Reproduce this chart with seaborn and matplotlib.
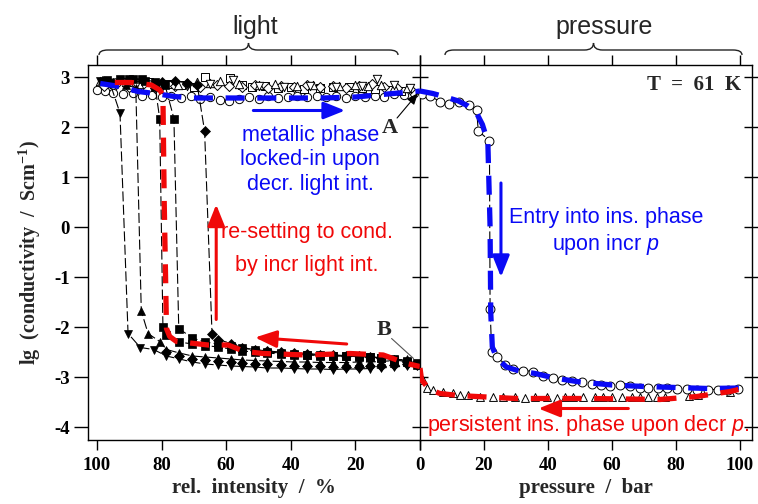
import matplotlib
matplotlib.use("Agg")
import matplotlib.pyplot as plt
import seaborn as sns
from matplotlib.path import Path
from matplotlib.patches import PathPatch

# ---------------- data (left panel: rel. intensity %) ----------------
open_circ_x = [100, 97.5, 95, 92, 89, 86, 83, 80, 77, 74, 71, 68, 65, 62, 59, 56, 53,
               50, 47, 44, 41, 38, 35, 32, 29, 26, 23, 20, 17, 14, 11, 8, 5, 2]
open_circ_y = [2.75, 2.72, 2.68, 2.66, 2.68, 2.62, 2.64, 2.6, 2.63, 2.58, 2.62, 2.56, 2.6,
               2.55, 2.52, 2.57, 2.6, 2.56, 2.62, 2.58, 2.6, 2.62, 2.6, 2.63, 2.6, 2.62,
               2.58, 2.62, 2.6, 2.63, 2.6, 2.66, 2.65, 2.68]
open_sq_x = [84, 78, 74, 70, 66.6, 58.8, 55, 52, 48, 44, 40, 36, 31, 27, 22, 18, 14, 10, 6]
open_sq_y = [2.9, 2.86, 2.85, 2.8, 3.0, 2.98, 2.84, 2.8, 2.82, 2.78, 2.8, 2.76, 2.78, 2.8,
             2.8, 2.78, 2.76, 2.74, 2.72]
open_dia_x = [98, 94, 90, 86, 82, 76, 72, 68, 63, 59, 55, 51, 47, 43, 39, 35, 31, 27, 23,
              19, 15, 11, 7, 3]
open_dia_y = [2.82, 2.86, 2.8, 2.84, 2.78, 2.82, 2.86, 2.8, 2.84, 2.82, 2.8, 2.84, 2.78,
              2.82, 2.8, 2.84, 2.8, 2.82, 2.78, 2.82, 2.86, 2.8, 2.78, 2.76]
open_tri_x = [99, 95, 91, 87, 81, 75, 69, 65, 62, 56, 50, 45, 38, 33, 25, 20, 16, 12, 8, 4]
open_tri_y = [2.92, 2.88, 2.9, 2.86, 2.88, 2.84, 2.9, 2.88, 2.92, 2.86, 2.84, 2.86, 2.82,
              2.84, 2.82, 2.84, 2.82, 2.85, 2.8, 2.78]
open_inv_x = [96, 88, 80, 72, 65, 58, 50, 42, 34, 26, 18, 13.4, 8, 3]
open_inv_y = [2.86, 2.84, 2.8, 2.82, 2.86, 2.95, 2.82, 2.8, 2.82, 2.8, 2.82, 2.97, 2.84, 2.78]

filA_x = [99, 96, 92.9, 90.4, 86.6, 82.5, 78.5, 74.5, 70.5, 66.5, 62.5, 58.5, 55, 51, 47.5,
          43, 39, 35, 31, 27, 23, 19, 15.5, 12, 8, 4]
filA_y = [2.92, 2.88, 2.28, -2.13, -2.41, -2.45, -2.58, -2.64, -2.7, -2.74, -2.76, -2.78,
          -2.79, -2.8, -2.82, -2.82, -2.83, -2.84, -2.84, -2.85, -2.84, -2.84, -2.83,
          -2.82, -2.8, -2.78]
filB_x = [98.5, 95, 91, 88, 86.3, 84.2, 80.6, 78.5, 74.5, 70.5, 66.5, 62.5, 58.5, 55, 51,
          47.5, 43, 39, 35, 31, 27, 23, 19, 15.5, 12, 8, 4]
filB_y = [2.95, 2.9, 2.85, 2.78, -1.68, -2.13, -2.29, -2.45, -2.52, -2.58, -2.6, -2.62,
          -2.64, -2.66, -2.67, -2.68, -2.69, -2.7, -2.7, -2.71, -2.71, -2.71, -2.7, -2.7,
          -2.69, -2.67, -2.64]
filC_x = [97, 93, 89, 85, 82, 80.6, 79.6, 78.5, 74.5, 70.5, 66.5, 62.5, 58.5, 55, 51, 47.5,
          43, 39, 35, 31, 27, 23, 19, 15.5, 12, 8, 4, 1]
filC_y = [2.95, 2.97, 2.97, 2.92, 2.8, 2.17, -2.0, -2.15, -2.3, -2.34, -2.37, -2.4, -2.44,
          -2.48, -2.5, -2.52, -2.54, -2.55, -2.56, -2.57, -2.58, -2.58, -2.59, -2.6,
          -2.61, -2.63, -2.68, -2.72]
filD_x = [90, 86, 82, 79, 76.2, 74.7, 70.5, 66.5, 62.5, 58.5, 55, 51, 47.5, 43, 39, 35, 31,
          27, 23, 19, 15.5, 12, 8, 4, 1]
filD_y = [2.97, 2.96, 2.9, 2.85, 2.17, -2.03, -2.22, -2.3, -2.34, -2.38, -2.42, -2.46,
          -2.5, -2.52, -2.54, -2.55, -2.56, -2.57, -2.58, -2.58, -2.6, -2.62, -2.65,
          -2.7, -2.75]
filE_x = [80, 76, 72, 69, 66.7, 64.4, 62.5, 58.5, 55, 51, 47.5, 43, 39, 35, 31, 27, 23, 19,
          15.5, 12, 8, 4, 1]
filE_y = [2.9, 2.92, 2.88, 2.85, 1.92, -2.13, -2.25, -2.33, -2.42, -2.45, -2.48, -2.5,
          -2.52, -2.53, -2.55, -2.56, -2.57, -2.58, -2.6, -2.62, -2.65, -2.7, -2.75]
filF_x = [78.5, 74.5, 70.5, 66.5, 62.5, 58.5, 55, 51, 47.5, 43, 39, 35, 31, 27, 23, 19,
          15.5, 12, 8, 4]
filF_y = [-2.5, -2.58, -2.64, -2.66, -2.68, -2.7, -2.72, -2.74, -2.74, -2.76, -2.77, -2.78,
          -2.78, -2.79, -2.79, -2.79, -2.78, -2.77, -2.76, -2.74]

blue_L_x = [99, 93, 87.3, 82.1, 76, 70.9, 60, 50, 40, 30, 20, 8.3, 1, 0]
blue_L_y = [2.87, 2.81, 2.71, 2.67, 2.61, 2.58, 2.58, 2.58, 2.58, 2.58, 2.6, 2.67, 2.71, 2.72]
red_L_x = [94.5, 89.4, 83.2, 80.6, 79.6, 79.2, 78.5, 77.5, 75.4, 69.8, 65.6, 59.4, 54.3,
           48.5, 35.1, 21.7, 11.4, 4.1, 0]
red_L_y = [2.89, 2.89, 2.84, 2.74, 2.64, 0.5, -2.03, -2.19, -2.29, -2.33, -2.36, -2.36,
           -2.49, -2.53, -2.56, -2.53, -2.56, -2.73, -2.79]

# ---------------- data (right panel: pressure / bar) ----------------
circ_R_x = [0.5, 3.1, 6.25, 9.2, 12.2, 15.4, 17.7, 18.2, 21.7, 21.9, 22.4, 24.2, 26.6, 29.2,
            32.3, 35.4, 38.5, 41.7, 44.5, 47.4, 50.5, 53.7, 56.5, 59.4, 62.5, 65.6, 68.8,
            71.4, 74.5, 77.1, 80.2, 83.3, 86.5, 90.1, 93.2, 96.4, 99.5]
circ_R_y = [2.67, 2.62, 2.51, 2.45, 2.51, 2.43, 2.35, 1.92, 1.73, -1.63, -2.49, -2.59,
            -2.76, -2.83, -2.87, -2.89, -2.98, -3.01, -3.05, -3.08, -3.09, -3.13, -3.15,
            -3.18, -3.16, -3.18, -3.21, -3.21, -3.21, -3.22, -3.23, -3.24, -3.25, -3.25,
            -3.25, -3.25, -3.23]
tri_R_x = [1.0, 2.1, 4.2, 7.3, 10.4, 12.5, 15.1, 18.7, 22.9, 26, 29.7, 32.8, 35.9, 39.6,
           42.7, 45.3, 47.9, 51, 54.7, 57.3, 59.9, 63, 66.2, 68.8, 71.4, 74, 76.6, 84, 87, 97]
tri_R_y = [-3.06, -3.21, -3.25, -3.29, -3.31, -3.36, -3.36, -3.39, -3.39, -3.4, -3.4,
           -3.41, -3.4, -3.4, -3.41, -3.4, -3.4, -3.39, -3.4, -3.4, -3.4, -3.39, -3.39,
           -3.39, -3.39, -3.39, -3.39, -3.37, -3.35, -3.3]
blue_R_x = [0, 4, 8, 12, 15, 17.5, 19.5, 21.2, 21.9, 22.1, 22.6, 24, 27, 31, 36, 42, 50,
            60, 70, 80, 90, 100]
blue_R_y = [2.72, 2.67, 2.6, 2.52, 2.42, 2.3, 2.05, 1.7, 0.0, -1.7, -2.4, -2.62, -2.8,
            -2.88, -2.93, -3.02, -3.1, -3.16, -3.19, -3.21, -3.23, -3.22]
red_R_x = [0, 0.5, 3, 6.25, 12, 17.7, 30, 53, 75, 86.5, 96.9, 99.5]
red_R_y = [-2.82, -3.06, -3.25, -3.33, -3.37, -3.39, -3.43, -3.43, -3.45, -3.39, -3.29, -3.25]

left_ticks = [100, 80, 60, 40, 20, 0]
right_ticks = [0, 20, 40, 60, 80, 100]
y_ticks = [-4, -3, -2, -1, 0, 1, 2, 3]

# ---------------- style ----------------
sns.set_theme(style="ticks")
plt.rcParams['font.family'] = ['Liberation Serif', 'DejaVu Serif']
plt.rcParams['mathtext.fontset'] = 'custom'
plt.rcParams['mathtext.rm'] = 'Liberation Serif:bold'
plt.rcParams['mathtext.bf'] = 'Liberation Serif:bold'
plt.rcParams['mathtext.it'] = 'Liberation Sans:italic'
plt.rcParams['axes.unicode_minus'] = False

BLUE = '#0a0af5'
RED = '#f00808'
SANS = 'Liberation Sans'

W, H = 758, 504
fig = plt.figure(figsize=(W / 100, H / 100), dpi=100)
axL = fig.add_axes([88 / W, 1 - 440 / H, 332 / W, 375 / H])
axR = fig.add_axes([420 / W, 1 - 440 / H, 332 / W, 375 / H])

DASH_THIN = (0, (9, 3))


def open_pts(ax, x, y, marker, s=36):
    sns.scatterplot(x=x, y=y, ax=ax, marker=marker, s=s, color='white',
                    edgecolor='black', linewidth=0.7, zorder=3)


def filled_line(ax, x, y, marker, ms=6.3, line=True):
    sns.lineplot(x=x, y=y, ax=ax, estimator=None, sort=False, color='black',
                 linewidth=0.8, linestyle=DASH_THIN if line else 'none', marker=marker,
                 markersize=ms, markerfacecolor='black', markeredgecolor='black',
                 markeredgewidth=0.5, zorder=4)


def thick_dash(ax, x, y, color):
    sns.lineplot(x=x, y=y, ax=ax, estimator=None, sort=False, color=color,
                 linewidth=3.8, linestyle=(0, (3.6, 2.4)), zorder=6)


def arrow(ax, start, end, color, lw=2.2):
    ax.annotate('', xy=end, xytext=start,
                arrowprops=dict(arrowstyle='-|>,head_length=0.65,head_width=0.26',
                                color=color, lw=lw, mutation_scale=20,
                                shrinkA=0, shrinkB=0), zorder=7)


# ---------------- left panel ----------------
open_pts(axL, open_circ_x, open_circ_y, 'o')
open_pts(axL, open_sq_x, open_sq_y, 's', s=30)
open_pts(axL, open_dia_x, open_dia_y, 'D', s=26)
open_pts(axL, open_tri_x, open_tri_y, '^')
open_pts(axL, open_inv_x, open_inv_y, 'v')

filled_line(axL, filA_x, filA_y, 'v')
filled_line(axL, filB_x, filB_y, '^')
filled_line(axL, filC_x, filC_y, 's', ms=5.5)
filled_line(axL, filD_x, filD_y, 's', ms=5.5)
filled_line(axL, filE_x, filE_y, 'D', ms=5.2)
filled_line(axL, filF_x, filF_y, 'D', ms=5.2, line=False)

thick_dash(axL, blue_L_x, blue_L_y, BLUE)
thick_dash(axL, red_L_x, red_L_y, RED)

arrow(axL, (51.6, 2.33), (23.2, 2.33), BLUE)
arrow(axL, (63.1, -1.85), (63.1, 0.45), RED)
arrow(axL, (22.7, -2.34), (51.1, -2.21), RED)

axL.text(34, 1.34, "metallic phase\nlocked-in upon\ndecr. light int.", color=BLUE,
         ha='center', va='center', fontsize=15.5, family=SANS, linespacing=1.2, zorder=8)
axL.text(35, -0.44, "re-setting to cond.\nby incr light int.", color=RED,
         ha='center', va='center', fontsize=15.5, family=SANS, linespacing=1.75, zorder=8)

axL.text(9.3, 1.98, "A", ha='center', va='center', fontsize=16, fontweight='bold', zorder=8)
axL.annotate('', xy=(0.6, 2.68), xytext=(7.1, 2.18),
             arrowprops=dict(arrowstyle='-|>,head_length=0.5,head_width=0.2',
                             color='black', lw=0.8, mutation_scale=14,
                             shrinkA=0, shrinkB=0), zorder=8)
axL.text(11.1, -2.06, "B", ha='center', va='center', fontsize=16, fontweight='bold', zorder=8)
axL.annotate('', xy=(2.0, -2.63), xytext=(8.8, -2.23),
             arrowprops=dict(arrowstyle='-', color='#555555', lw=0.8,
                             shrinkA=0, shrinkB=0), zorder=8)

# ---------------- right panel ----------------
sns.lineplot(x=circ_R_x, y=circ_R_y, ax=axR, estimator=None, sort=False, color='black',
             linewidth=0.8, linestyle=DASH_THIN, marker='o', markersize=6.4,
             markerfacecolor='white', markeredgecolor='black', markeredgewidth=0.7, zorder=4)
open_pts(axR, tri_R_x, tri_R_y, '^', s=32)

thick_dash(axR, blue_R_x, blue_R_y, BLUE)
thick_dash(axR, red_R_x, red_R_y, RED)

arrow(axR, (25.3, 0.88), (25.3, -1.0), BLUE)
arrow(axR, (65.1, -3.63), (37.0, -3.63), RED)

axR.text(58.1, -0.1, "Entry into ins. phase\nupon incr $p$", color=BLUE,
         ha='center', va='center', fontsize=15.5, family=SANS, linespacing=1.2, zorder=8)
axR.text(52.6, -3.96, "persistent ins. phase upon decr $p$.", color=RED,
         ha='center', va='center', fontsize=15.5, family=SANS, zorder=8)
axR.text(100.5, 2.84, "T  =  61  K", ha='right', va='center', fontsize=15,
         fontweight='bold', zorder=8)

# ---------------- axes formatting ----------------
for ax in (axL, axR):
    ax.set_ylim(-4.26, 3.24)
    ax.set_yticks(y_ticks)
    for sp in ax.spines.values():
        sp.set_color('black')
        sp.set_linewidth(1.0)
    ax.set_xlabel('')
    ax.set_ylabel('')

axL.set_xlim(102.8, 0)
axL.set_xticks(left_ticks)
axL.set_xticklabels([str(t) for t in left_ticks], fontsize=13.5, fontweight='bold')
axL.set_yticklabels([str(t) for t in y_ticks], fontsize=13.5, fontweight='bold')
axL.spines['right'].set_visible(False)
axL.tick_params(axis='x', which='both', direction='out', top=True, bottom=True,
                length=7, width=1, pad=5, colors='black')
axL.tick_params(axis='y', direction='out', left=True, right=False, length=10, width=1,
                pad=3, colors='black')

axR.set_xlim(0, 103.75)
axR.set_xticks(right_ticks)
axR.set_xticklabels([''] + [str(t) for t in right_ticks[1:]], fontsize=13.5,
                    fontweight='bold')
axR.tick_params(axis='x', which='both', direction='out', top=True, bottom=True,
                length=7, width=1, pad=5, colors='black')
axR.tick_params(axis='y', direction='inout', left=True, right=True, labelleft=False,
                length=12, width=1, colors='black')

axL.set_xlabel("rel.  intensity  /  %", fontsize=15, fontweight='bold', labelpad=3)
axR.set_xlabel("pressure  /  bar", fontsize=15, fontweight='bold', labelpad=3)
axL.set_ylabel("lg  (conductivity  /  Scm$^{-1}$)", fontsize=14.5, fontweight='bold',
               labelpad=8)


# ---------------- braces and group titles ----------------
def brace(x0, x1, y_end=55, y_flat=50, y_tip=43, r=9):
    xc = (x0 + x1) / 2
    pts = [(x0, y_end), (x0, y_flat), (x0 + r, y_flat), (xc - r, y_flat),
           (xc, y_flat), (xc, y_tip), (xc, y_flat), (xc + r, y_flat),
           (x1 - r, y_flat), (x1, y_flat), (x1, y_end)]
    codes = [Path.MOVETO, Path.CURVE3, Path.CURVE3, Path.LINETO,
             Path.CURVE3, Path.CURVE3, Path.CURVE3, Path.CURVE3,
             Path.LINETO, Path.CURVE3, Path.CURVE3]
    verts = [(px / W, 1 - py / H) for px, py in pts]
    patch = PathPatch(Path(verts, codes), transform=fig.transFigure, fill=False,
                      edgecolor='#222222', linewidth=1.0)
    fig.add_artist(patch)


brace(99, 398)
brace(445, 742)
fig.text(255 / W, 1 - 27 / H, "light", ha='center', va='center', fontsize=18, family=SANS)
fig.text(604 / W, 1 - 27 / H, "pressure", ha='center', va='center', fontsize=18, family=SANS)

fig.savefig("out.png", dpi=100)
